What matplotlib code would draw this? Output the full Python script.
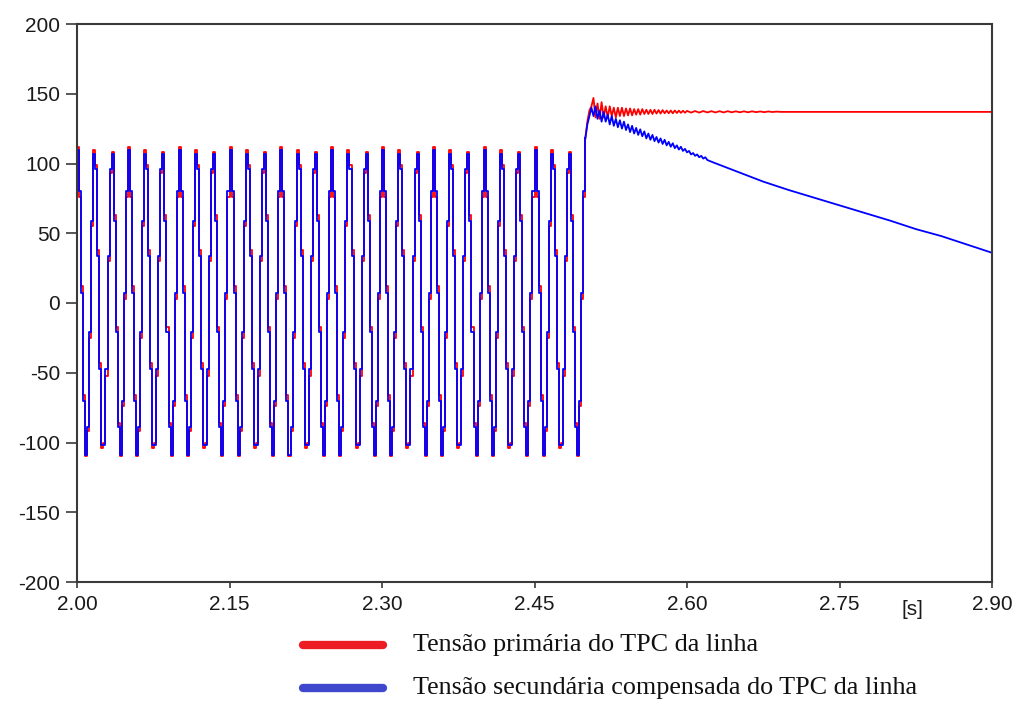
import numpy as np
import matplotlib.pyplot as plt
from matplotlib.lines import Line2D

# sampled waveform before the fault, 2 ms sample clock starting at 2.000 s
sample_dt = 0.002
n_cycles_block = 10
# one record block (3 cycles of 60 Hz = 25 samples), repeats through 2.00-2.50 s
red_block = [112, 76, 12, -66, -110, -92, -25, 55, 110, 99, 38, -43, -104,
             -100, -52, 30, 93, 108, 63, -17, -86, -110, -74, 3, 76]
blue_block = [110, 80, 7, -70, -109, -89, -21, 59, 107, 96, 34, -47, -102,
              -102, -47, 34, 96, 107, 59, -21, -89, -109, -70, 7, 80]

# after the fault (t >= 2.50 s), 2 ms samples while it rings
red_post = [118, 130, 138, 141, 147, 133, 143, 132, 144, 133,
            141, 133, 141, 134, 140, 133, 140, 134, 140, 134,
            139.5, 134.5, 139.5, 134.5, 139, 135, 139, 135, 139, 135.5,
            138.5, 135.5, 138.5, 135.5, 138.5, 135.8, 138.3, 135.8, 138.3, 136,
            138, 136, 138, 136, 138, 136.2, 137.9, 136.3, 137.8, 136.4,
            137.7]
# then 4 ms samples until it settles
red_tail = [136.5, 137.6, 136.5, 137.6, 136.6, 137.5, 136.6, 137.5, 136.6, 137.5,
            136.7, 137.4, 136.7, 137.4, 136.7, 137.4, 136.8, 137.3, 136.8, 137.3,
            136.9, 137.2]
red_final = [137, 137]
red_final_t = [2.692, 2.900]

blue_post = [118, 128, 134, 140, 134, 141, 132, 138, 130, 137,
             130, 135, 128, 134, 127, 132, 126, 131, 125, 130,
             124, 128, 122.5, 127, 121.5, 125.5, 120.5, 124.5, 119.5, 123,
             118, 121.5, 117, 120.5, 116, 119, 115, 118, 114, 117,
             113, 115.5, 112, 114.5, 111, 113, 110, 112, 109, 110.5,
             108, 109, 106.5, 107.5, 105.5, 106.5, 104.5, 105.5, 103.5, 104.5,
             102.5]
blue_tail_t = [2.625, 2.650, 2.675, 2.700, 2.725, 2.750, 2.775, 2.800, 2.825,
               2.850, 2.875, 2.900]
blue_tail = [101, 94, 87, 81, 75.5, 70, 64.5, 59, 53, 48, 42, 36]

x_ticks = [2.00, 2.15, 2.30, 2.45, 2.60, 2.75, 2.90]
y_ticks = [200, 150, 100, 50, 0, -50, -100, -150, -200]
legend_labels = ['Tensão primária do TPC da linha',
                 'Tensão secundária compensada do TPC da linha']

red_osc = np.tile(red_block, n_cycles_block)
blue_osc = np.tile(blue_block, n_cycles_block)
t_osc = 2.0 + sample_dt * np.arange(len(blue_osc))
# close the step trace on the first post-fault sample
t_osc = np.append(t_osc, 2.5)
red_osc = np.append(red_osc, red_post[0])
blue_osc = np.append(blue_osc, blue_post[0])

t_red = np.concatenate([2.5 + sample_dt * np.arange(len(red_post)),
                        2.6 + 2 * sample_dt * np.arange(1, len(red_tail) + 1),
                        red_final_t])
v_red = np.concatenate([red_post, red_tail, red_final])
t_blue = np.concatenate([2.5 + sample_dt * np.arange(len(blue_post)), blue_tail_t])
v_blue = np.concatenate([blue_post, blue_tail])

plt.rcParams['font.family'] = ['Liberation Sans', 'DejaVu Sans']
plt.rcParams['axes.unicode_minus'] = False

fig = plt.figure(figsize=(10.18, 7.01), dpi=100)
ax = fig.add_axes([77 / 1018, 1 - 582 / 701, 915 / 1018, 558 / 701])

ax.plot(t_osc, red_osc, color='#ff0000', lw=1.3, drawstyle='steps-post')
ax.plot(t_red, v_red, color='#ff0000', lw=1.3)
ax.plot(t_osc, blue_osc, color='#0000ff', lw=1.3, drawstyle='steps-post')
ax.plot(t_blue, v_blue, color='#0000ff', lw=1.3)

ax.set_xlim(2.0, 2.9)
ax.set_ylim(-200, 200)
ax.set_xticks(x_ticks)
ax.set_xticklabels(['%.2f' % v for v in x_ticks])
ax.set_yticks(y_ticks)
for s in ax.spines.values():
    s.set_color('#3a3a3a')
    s.set_linewidth(1.5)
ax.tick_params(axis='y', direction='out', length=8, width=1.2, color='#3a3a3a',
               labelsize=15, pad=4, labelcolor='#1a1a1a')
ax.tick_params(axis='x', direction='out', length=4, width=1.2, color='#3a3a3a',
               labelsize=15, pad=5, labelcolor='#1a1a1a')
ax.text(0.9126, -0.05, '[s]', transform=ax.transAxes, fontsize=15,
        ha='center', va='center', color='#1a1a1a')

# legend drawn below the axes
key_colors = ['#ed1c24', '#3f48cc']
key_y = [1 - 645 / 701, 1 - 688 / 701]
for c, y, lab in zip(key_colors, key_y, legend_labels):
    fig.add_artist(Line2D([303 / 1018, 383 / 1018], [y, y], color=c, lw=6,
                          solid_capstyle='round', transform=fig.transFigure))
    fig.text(413 / 1018, y, lab, fontsize=18.8, family='Liberation Serif',
             color='#111111', va='center', ha='left')

fig.savefig('out.png', dpi=100)
